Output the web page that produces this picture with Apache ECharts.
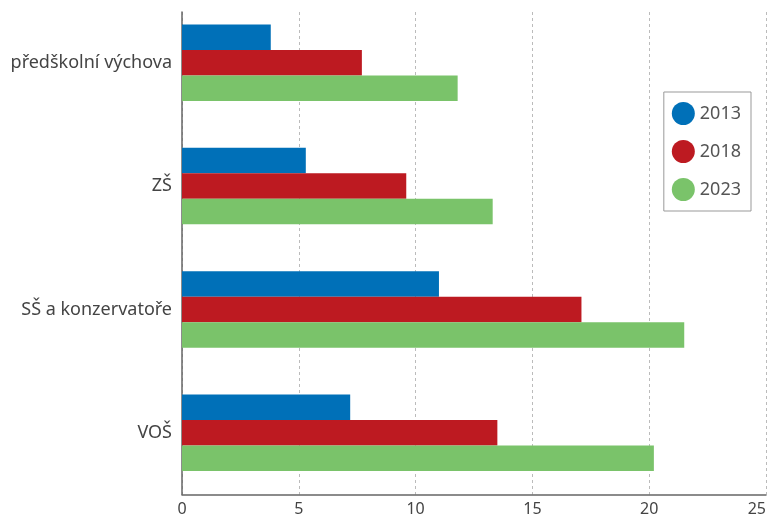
<!DOCTYPE html>
<html>
<head>
<meta charset="utf-8">
<script src="https://cdn.jsdelivr.net/npm/echarts@6/dist/echarts.min.js"></script>
<style>
html,body{margin:0;padding:0;background:#fff;overflow:hidden;width:100%;height:100%;}
#c{width:100vw;height:100vh;}
</style>
</head>
<body>
<div id="c"></div>
<script>
const categories = ['předškolní výchova', 'ZŠ', 'SŠ a konzervatoře', 'VOŠ'];
const seriesNames = ['2013', '2018', '2023'];
const values2013 = [3.8, 5.3, 11.0, 7.2];
const values2018 = [7.7, 9.6, 17.1, 13.5];
const values2023 = [11.8, 13.3, 21.5, 20.2];
const xTicks = [0, 5, 10, 15, 20, 25];
const colors = ['#0070b8', '#bd1a21', '#7ac36a'];

const chart = echarts.init(document.getElementById('c'));
const dataSets = [values2013, values2018, values2023];
const xMin = xTicks[0], xMax = xTicks[xTicks.length - 1];
chart.setOption({
  animation: false,
  textStyle: { fontFamily: 'Noto Sans' },
  grid: [
    { left: 182, right: 5, top: 12, bottom: 24.5, containLabel: false, outerBoundsMode: 'none' },
    { left: 182, right: 5, top: 1, bottom: 24.5, containLabel: false, outerBoundsMode: 'none' }
  ],
  legend: {
    orient: 'vertical',
    right: 20,
    top: 92,
    data: seriesNames,
    icon: 'circle',
    itemWidth: 23,
    itemHeight: 23,
    itemGap: 15,
    padding: [10, 10, 10, 8],
    borderColor: '#999',
    borderWidth: 1,
    backgroundColor: '#fff',
    textStyle: { fontSize: 18, color: '#555', fontFamily: 'Noto Sans' }
  },
  xAxis: [
    {
      gridIndex: 0,
      type: 'value',
      min: xMin,
      max: xMax,
      interval: 5,
      axisLine: { show: true, lineStyle: { color: '#666', width: 1.5 } },
      axisTick: { show: false },
      axisLabel: { fontSize: 16, color: '#444', margin: 7, alignMaxLabel: 'right' },
      splitLine: { show: true, lineStyle: { type: [3, 3], color: '#bbb', width: 1 } }
    },
    {
      gridIndex: 1,
      type: 'value',
      min: xMin,
      max: xMax,
      interval: 5,
      show: false,
      splitLine: { show: false }
    }
  ],
  yAxis: [
    {
      gridIndex: 0,
      type: 'value',
      min: 0,
      max: 1,
      axisLine: { show: true, lineStyle: { color: '#666', width: 1.5 } },
      axisTick: { show: false },
      axisLabel: { show: false },
      splitLine: { show: false }
    },
    {
      gridIndex: 1,
      type: 'category',
      data: categories,
      inverse: true,
      axisLine: { show: false },
      axisTick: { show: false },
      axisLabel: { fontSize: 18, color: '#444', margin: 10 },
      splitLine: { show: false }
    }
  ],
  series: seriesNames.map((n, i) => ({
    name: n,
    type: 'bar',
    xAxisIndex: 1,
    yAxisIndex: 1,
    data: dataSets[i],
    barGap: '0%',
    barCategoryGap: '38%',
    itemStyle: { color: colors[i] }
  }))
});
</script>
</body>
</html>
